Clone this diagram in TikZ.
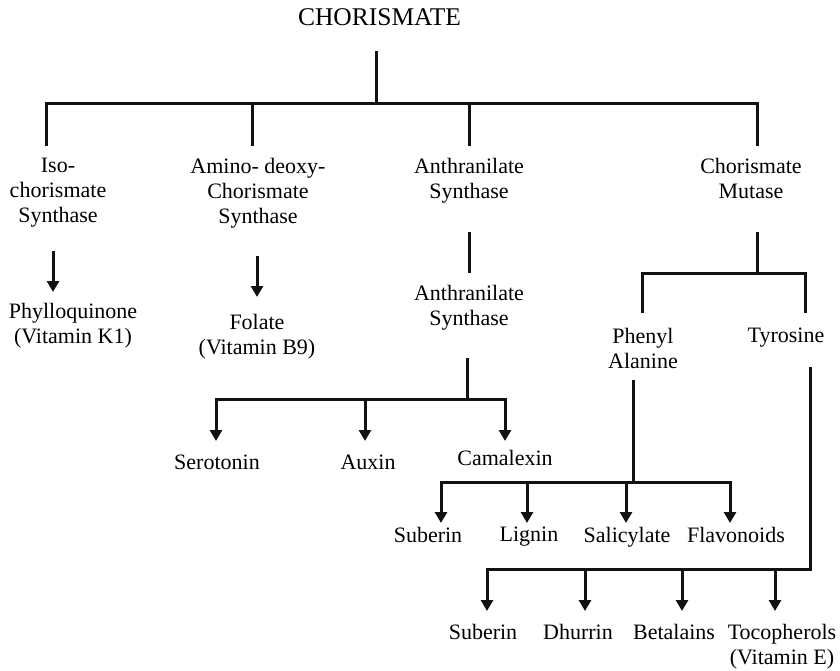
\documentclass[tikz,border=0pt]{standalone}
\usepackage{fontspec}
\setmainfont{Liberation Serif}
\usetikzlibrary{arrows.meta}
\begin{document}
\begin{tikzpicture}[x=1pt,y=-1pt,
  ln/.style={line width=3pt, draw=black!93},
  arr/.style={line width=3pt, draw=black!93, -{Triangle[width=12pt,length=11pt]}},
  lbl/.style={font=\fontsize{22}{25}\selectfont, inner sep=0pt, anchor=north, align=center},
  ttl/.style={font=\fontsize{25.5}{28}\selectfont, inner sep=0pt, anchor=north}]
\useasboundingbox (0,0) rectangle (840,671);

% labels
\node[ttl] (chor) at (379.5,8) {CHORISMATE};
\node[lbl] (iso) at (58,158) {Iso-\\chorismate\\Synthase};
\node[lbl] (amino) at (258,158) {Amino- deoxy-\\Chorismate\\Synthase};
\node[lbl] (anth) at (469,158) {Anthranilate\\Synthase};
\node[lbl] (cmut) at (751,158) {Chorismate\\Mutase};
\node[lbl] (phyl) at (73,303) {Phylloquinone\\(Vitamin K1)};
\node[lbl] (fol) at (257,314) {Folate\\(Vitamin B9)};
\node[lbl] (anth2) at (469,285) {Anthranilate\\Synthase};
\node[lbl] (phen) at (643,328) {Phenyl\\Alanine};
\node[lbl] (tyr) at (786,328) {Tyrosine};
\node[lbl] (sero) at (217,455) {Serotonin};
\node[lbl] (aux) at (368,455) {Auxin};
\node[lbl] (cam) at (505,450) {Camalexin};
\node[lbl] (sub1) at (428,527) {Suberin};
\node[lbl] (lig) at (529,527) {Lignin};
\node[lbl] (sal) at (627,527) {Salicylate};
\node[lbl] (fla) at (736,527) {Flavonoids};
\node[lbl] (sub2) at (483,624) {Suberin};
\node[lbl] (dhu) at (578,624) {Dhurrin};
\node[lbl] (bet) at (674,624) {Betalains};
\node[lbl] (toc) at (782,624) {Tocopherols\\(Vitamin E)};

% junction coordinates
\coordinate (c0) at (376,51);
\coordinate (c1) at (376,104);
\coordinate (isoT) at (46,146);
\coordinate (aminoT) at (252,146);
\coordinate (anthT) at (469,146);
\coordinate (cmutT) at (757,146);
\coordinate (isoA) at (53,251);
\coordinate (isoB) at (53,292);
\coordinate (aminoA) at (257,256);
\coordinate (aminoB) at (257,297);
\coordinate (anthA) at (469,232);
\coordinate (anthB) at (469,273);
\coordinate (anth2A) at (467,358);
\coordinate (anth2B) at (467,399);
\coordinate (seroT) at (216,441);
\coordinate (auxT) at (365,441);
\coordinate (camT) at (505,441);
\coordinate (cmutA) at (757,232);
\coordinate (cmutB) at (757,273);
\coordinate (phenT) at (642,313);
\coordinate (tyrT) at (805,313);
\coordinate (phenA) at (633,380);
\coordinate (phenB) at (633,482);
\coordinate (sub1T) at (441,523);
\coordinate (ligT) at (527,523);
\coordinate (salT) at (626,523);
\coordinate (flaT) at (730,523);
\coordinate (tyrA) at (810,367);
\coordinate (tyrB) at (810,569);
\coordinate (sub2T) at (487,611);
\coordinate (dhuT) at (585,611);
\coordinate (betT) at (682,611);
\coordinate (tocT) at (775,611);

% top level
\draw[ln] (c0) -- (c1);
\draw[ln] (isoT) -- (isoT |- c1) -- (cmutT |- c1) -- (cmutT);
\draw[ln] (aminoT |- c1) -- (aminoT);
\draw[ln] (anthT |- c1) -- (anthT);

% second level
\draw[arr] (isoA) -- (isoB);
\draw[arr] (aminoA) -- (aminoB);
\draw[ln] (anthA) -- (anthB);
\draw[ln] (cmutA) -- (cmutB);
\draw[ln] (phenT) -- (phenT |- cmutB) -- (tyrT |- cmutB) -- (tyrT);

% anthranilate products
\draw[ln] (anth2A) -- (anth2B);
\draw[arr] (anth2B) -| (seroT);
\draw[arr] (anth2B) -| (camT);
\draw[arr] (auxT |- anth2B) -- (auxT);

% phenylalanine products
\draw[ln] (phenA) -- (phenB);
\draw[arr] (phenB) -| (sub1T);
\draw[arr] (phenB) -| (flaT);
\draw[arr] (ligT |- phenB) -- (ligT);
\draw[arr] (salT |- phenB) -- (salT);

% tyrosine products
\draw[arr] (tyrA) -- (tyrB) -| (sub2T);
\draw[arr] (dhuT |- tyrB) -- (dhuT);
\draw[arr] (betT |- tyrB) -- (betT);
\draw[arr] (tocT |- tyrB) -- (tocT);
\end{tikzpicture}
\end{document}
